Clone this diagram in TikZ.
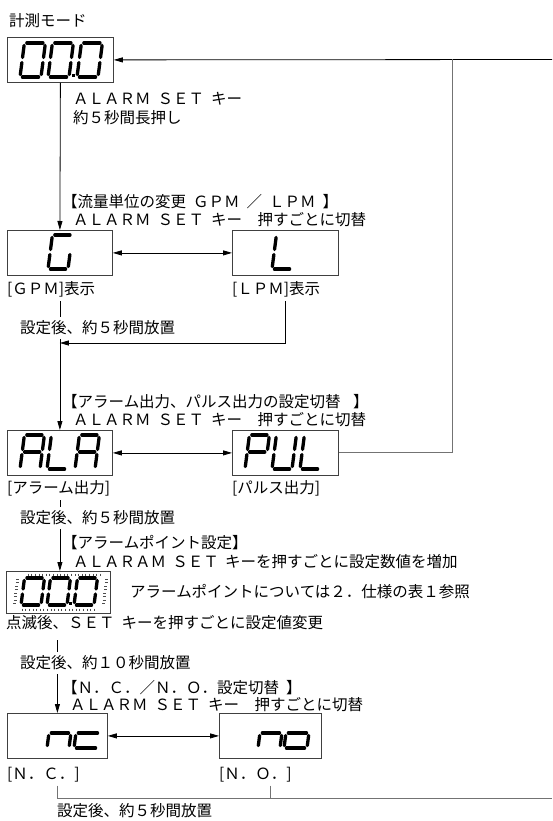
\documentclass[tikz,border=0pt]{standalone}
\usepackage{fontspec}
\setmainfont{Noto Sans CJK JP}
\usetikzlibrary{arrows.meta}
\newcommand\hs{\hspace{0.45em}}
\newcommand\ws{\hspace{1em}}
\newcommand\dig[5]{\begin{scope}[shift={(#1,#2)},xslant=0.13]\def\dw{#3}\def\dh{#4}#5\end{scope}}
\newcommand\segA{\draw[segline] (2.4,-\dh) -- (\dw-2.4,-\dh);}
\newcommand\segB{\draw[segline] (\dw,-\dh+2.4) -- (\dw,-\dh/2-2.5);}
\newcommand\segC{\draw[segline] (\dw,-\dh/2+2.5) -- (\dw,-2.4);}
\newcommand\segD{\draw[segline] (2.4,0) -- (\dw-2.4,0);}
\newcommand\segE{\draw[segline] (0,-2.4) -- (0,-\dh/2+2.5);}
\newcommand\segF{\draw[segline] (0,-\dh/2-2.5) -- (0,-\dh+2.4);}
\newcommand\segG{\draw[segline] (2.4,-\dh/2) -- (\dw-2.4,-\dh/2);}
\newcommand\zero{\segA\segB\segC\segD\segE\segF}
\begin{document}
\begin{tikzpicture}[x=1pt,y=-1pt,
  disp/.style={draw=black!75, line width=0.8pt, minimum width=105pt, minimum height=45pt, inner sep=0pt, anchor=north west},
  segline/.style={line width=3.3pt, line cap=round},
  txt/.style={anchor=west, inner sep=0pt, font=\fontsize{15.5}{16}\selectfont},
  wtxt/.style={txt, inner ysep=4pt},
  flow/.style={line width=0.8pt},
  arr/.style={flow, -{Triangle[length=9pt,width=5pt]}},
  darr/.style={flow, {Triangle[length=9pt,width=5pt]}-{Triangle[length=9pt,width=5pt]}},
  gline/.style={line width=1pt, draw=black!55},
  tick/.style={line width=0.35pt, draw=black!70}]
\useasboundingbox (0,0) rectangle (552,821);

% display boxes
\node[disp, minimum width=106pt] (d0) at (7,37) {};
\node[disp] (dG) at (7,230) {};
\node[disp, minimum width=106pt] (dL) at (232,230) {};
\node[disp] (dA) at (7,430) {};
\node[disp, minimum width=106pt] (dP) at (232,430) {};
\node[disp, minimum width=104pt, minimum height=42pt] (dB) at (6,571) {};
\node[disp, minimum width=100pt] (dN) at (7,713) {};
\node[disp, minimum width=102pt] (dO) at (219,713) {};

% digits
\dig{20}{77}{21}{34}{\zero}
\dig{48}{77}{21}{34}{\zero}
\fill (71.5,74.5) rectangle (74.5,77.5);
\dig{77}{77}{21}{34}{\zero}

\dig{48}{269}{20}{34}{\segA\segC\segD\segE\segF}
\dig{272}{269}{20}{34}{\segD\segE\segF}

\dig{20}{469}{20}{34}{\segA\segB\segC\segE\segF\segG}
\dig{47}{469}{20}{34}{\segD\segE\segF}
\dig{75}{469}{20}{34}{\segA\segB\segC\segE\segF\segG}

\dig{245}{469}{20}{34}{\segA\segB\segE\segF\segG}
\dig{272}{469}{20}{34}{\segB\segC\segD\segE\segF}
\dig{300}{469}{20}{34}{\segD\segE\segF}

\dig{21}{605}{20}{27}{\zero}
\dig{47}{605}{20}{27}{\zero}
\fill (69,602) rectangle (72,605);
\dig{74}{605}{20}{27}{\zero}
\foreach \i in {0,...,20} \draw[tick] (28+3.6*\i,573.5) -- (28+3.6*\i,575.5);
\foreach \i in {0,...,20} \draw[tick] (22+3.6*\i,608.5) -- (22+3.6*\i,610.5);
\foreach \j in {0,...,7} \draw[tick] ({13+0.13*(604-(579+3.5*\j))},579+3.5*\j) -- ++(3,0);
\foreach \j in {0,...,7} \draw[tick] ({102+0.13*(604-(579+3.5*\j))},579+3.5*\j) -- ++(3,0);

\dig{47}{748}{22}{30}{\segC\segE\segG}
\dig{74}{748}{24}{30}{\segD\segE\segG}
\dig{258}{748}{22}{30}{\segC\segE\segG}
\dig{284}{748}{23}{30}{\segC\segD\segE\segG}

% texts
\node[txt] (tMode) at (9,21) {計測モード};
\node[txt] (k1) at (73,99) {ＡＬＡＲＭ\hs ＳＥＴ\hs キー};
\node[txt] (k2) at (73,118) {約５秒間長押し};
\node[txt] (h1) at (62,202) {【流量単位の変更\hs ＧＰＭ\hs ／\hs ＬＰＭ\hs 】};
\node[txt] (h1b) at (73,220) {ＡＬＡＲＭ\hs ＳＥＴ\hs キー\ws 押すごとに切替};
\node[txt] (lG) at (7,289) {[ＧＰＭ]表示};
\node[txt] (lL) at (232,289) {[ＬＰＭ]表示};
\node[wtxt] (w1) at (20,328) {設定後、約５秒間放置};
\node[txt] (h2) at (62,402) {【アラーム出力、パルス出力の設定切替\hspace{0.8em}】};
\node[txt] (h2b) at (73,420) {ＡＬＡＲＭ\hs ＳＥＴ\hs キー\ws 押すごとに切替};
\node[txt] (lA) at (7,488) {[アラーム出力]};
\node[txt] (lP) at (232,488) {[パルス出力]};
\node[wtxt] (w2) at (20,518) {設定後、約５秒間放置};
\node[txt] (h3) at (62,543) {【アラームポイント設定】};
\node[txt] (h3b) at (73,562) {ＡＬＡＲＡＭ\hspace{0.4em}ＳＥＴ\hspace{0.4em}キーを押すごとに設定数値を増加};
\node[txt] (note) at (130,592) {アラームポイントについては２．仕様の表１参照};
\node[txt] (lB) at (6,623) {点滅後、ＳＥＴ\hs キーを押すごとに設定値変更};
\node[wtxt] (w3) at (20,663) {設定後、約１０秒間放置};
\node[txt] (h4) at (62,688) {【Ｎ．Ｃ．／Ｎ．Ｏ．設定切替\hs 】};
\node[txt] (h4b) at (70,705) {ＡＬＡＲＭ\hs ＳＥＴ\hs キー\ws 押すごとに切替};
\node[txt] (lN) at (7,775) {[Ｎ．Ｃ．]};
\node[txt] (lO) at (219,775) {[Ｎ．Ｏ．]};
\node[txt] (w4) at (57,811) {設定後、約５秒間放置};

% connectors
\coordinate (y343) at (0,343);
\coordinate (rE) at (552,59.5);
\coordinate (rT) at (452,59.5);
\coordinate (bE) at (552,798);

\draw[arr] (d0.south) -- (dG.north);
\draw[darr] (dG.east) -- (dL.west);
\draw[flow] ([yshift=-4pt]lG.south -| dG.south) -- (w1.north -| dG.south);
\draw[arr] (w1.south -| dG.south) -- (dA.north);
\draw[arr] ([yshift=-4pt]lL.south -| dL.south) |- (y343 -| dG.south);

\draw[darr] (dA.east) -- (dP.west);
\draw[arr] (rE) -- (d0.east);
\draw[gline] (dP.east) -| (rT);
\draw[flow] ([yshift=-4pt]lA.south -| dA.south) -- (w2.north -| dA.south);
\draw[arr] (w2.south -| dA.south) -- (dB.north -| dA.south);

\draw[flow] ([yshift=-10pt]lB.south -| dN.north) -- (w3.north -| dN.north);
\draw[arr] (w3.south -| dN.north) -- (dN.north);
\draw[darr] (dN.east) -- (dO.west);
\draw[gline] ([yshift=-3pt]lN.south -| dN.south) |- (bE);
\draw[gline] ([yshift=-3pt]lO.south -| dO.south) -- (bE -| dO.south);
\end{tikzpicture}
\end{document}
